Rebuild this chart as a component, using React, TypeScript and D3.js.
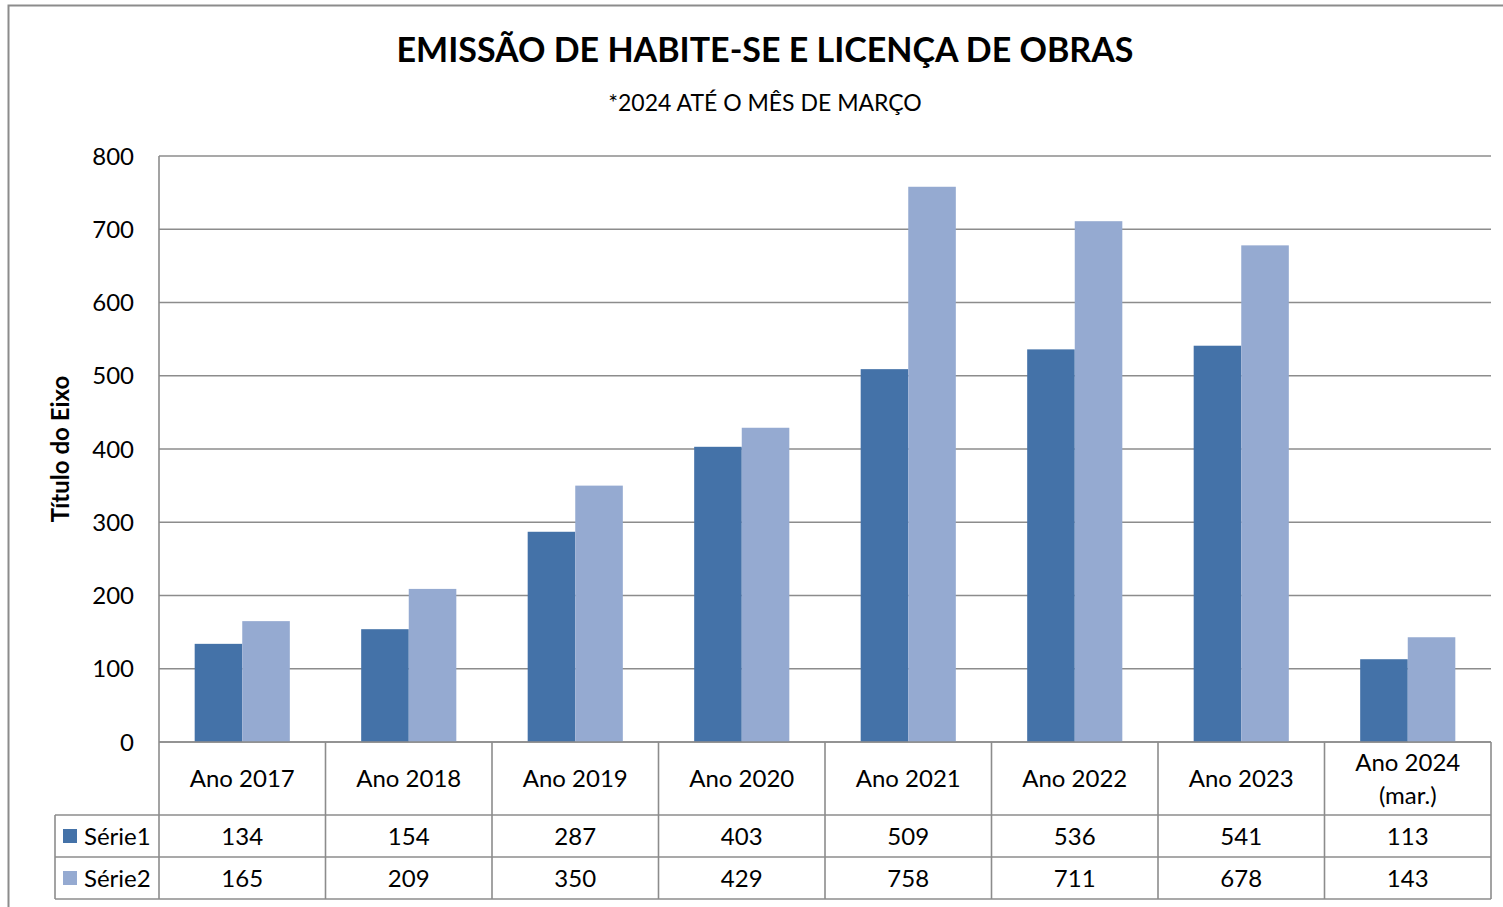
import React from 'react';
import * as d3 from 'd3';

const categories = ['Ano 2017', 'Ano 2018', 'Ano 2019', 'Ano 2020', 'Ano 2021', 'Ano 2022', 'Ano 2023', 'Ano 2024\n(mar.)'];
const seriesNames = ['Série1', 'Série2'];
const serie1 = [134, 154, 287, 403, 509, 536, 541, 113];
const serie2 = [165, 209, 350, 429, 758, 711, 678, 143];
const yTicks = [0, 100, 200, 300, 400, 500, 600, 700, 800];

const W = 1503;
const H = 907;
const FONT = 'Lato, "Open Sans", sans-serif';
const COLORS = ['#4472A8', '#95AAD1'];
const GRID = '#8c8c8c';

const App: React.FC = () => {
  const plot = { left: 159, right: 1491, top: 156, bottom: 742 };
  const table = { legendLeft: 55, header: 815, row1: 857, row2: 899 };

  const x0 = d3.scaleBand<string>()
    .domain(categories)
    .range([plot.left, plot.right])
    .paddingInner(0)
    .paddingOuter(0);

  const x1 = d3.scaleBand<string>()
    .domain(seriesNames)
    .range([0, x0.bandwidth()])
    .paddingInner(0)
    .paddingOuter(0.75);

  const y = d3.scaleLinear().domain([0, 800]).range([plot.bottom, plot.top]);

  const values = [serie1, serie2];
  const rowTops = [table.header, table.row1];
  const rowBottoms = [table.row1, table.row2];

  return (
    <svg width={W} height={H} style={{ position: 'absolute', left: 0, top: 0, display: 'block', background: '#fff' }}>
      {/* outer chart border */}
      <path d={`M8.5,${H + 5} V5.5 H${W + 5}`} fill="none" stroke="#8c8c8c" strokeWidth={2} />

      {/* title */}
      <text x={765} y={62} textAnchor="middle" fontFamily={FONT} fontWeight={700} fontSize={34} fill="#000">
        EMISSÃO DE HABITE-SE E LICENÇA DE OBRAS
      </text>
      <text x={765} y={111} textAnchor="middle" fontFamily={FONT} fontSize={23} fill="#000">
        *2024 ATÉ O MÊS DE MARÇO
      </text>

      {/* gridlines */}
      {yTicks.map((t) => (
        <line key={t} x1={plot.left} x2={plot.right} y1={y(t)} y2={y(t)} stroke={GRID} strokeWidth={1.6} />
      ))}
      <line x1={plot.left} x2={plot.left} y1={plot.top} y2={table.row2} stroke={GRID} strokeWidth={1.6} />

      {/* y ticks */}
      {yTicks.map((t) => (
        <text key={t} x={134} y={y(t)} dy="0.36em" textAnchor="end" fontFamily={FONT} fontSize={24} fill="#000">
          {t}
        </text>
      ))}

      {/* y axis title */}
      <text
        transform={`translate(69,${(plot.top + plot.bottom) / 2}) rotate(-90)`}
        textAnchor="middle"
        fontFamily={FONT}
        fontWeight={700}
        fontSize={24}
        fill="#000"
      >
        Título do Eixo
      </text>

      {/* bars */}
      {categories.map((c, i) => (
        <g key={c} transform={`translate(${x0(c)},0)`}>
          {seriesNames.map((s, j) => (
            <rect
              key={s}
              x={x1(s)}
              y={y(values[j][i])}
              width={x1.bandwidth()}
              height={y(0) - y(values[j][i])}
              fill={COLORS[j]}
            />
          ))}
        </g>
      ))}

      {/* data table lines */}
      <line x1={plot.left} x2={plot.right} y1={plot.bottom} y2={plot.bottom} stroke={GRID} strokeWidth={1.6} />
      {[table.header, table.row1, table.row2].map((ly) => (
        <line key={ly} x1={table.legendLeft} x2={plot.right} y1={ly} y2={ly} stroke={GRID} strokeWidth={1.6} />
      ))}
      <line x1={table.legendLeft} x2={table.legendLeft} y1={table.header} y2={table.row2} stroke={GRID} strokeWidth={1.6} />
      {categories.map((c) => (
        <line
          key={c}
          x1={(x0(c) as number) + x0.bandwidth()}
          x2={(x0(c) as number) + x0.bandwidth()}
          y1={plot.bottom}
          y2={table.row2}
          stroke={GRID}
          strokeWidth={1.6}
        />
      ))}

      {/* header labels */}
      {categories.map((c) => {
        const lines = c.split('\n');
        const cx = (x0(c) as number) + x0.bandwidth() / 2;
        const cy = (plot.bottom + table.header) / 2;
        const lh = 33;
        return (
          <text key={c} textAnchor="middle" fontFamily={FONT} fontSize={24} fill="#000">
            {lines.map((l, k) => (
              <tspan key={k} x={cx} y={cy + (k - (lines.length - 1) / 2) * lh} dy="0.36em">
                {l}
              </tspan>
            ))}
          </text>
        );
      })}

      {/* legend keys and values */}
      {seriesNames.map((s, j) => {
        const cy = (rowTops[j] + rowBottoms[j]) / 2;
        return (
          <g key={s}>
            <rect x={63} y={cy - 7} width={14} height={14} fill={COLORS[j]} />
            <text x={84} y={cy} dy="0.36em" fontFamily={FONT} fontSize={24} fill="#000">
              {s}
            </text>
            {categories.map((c, i) => (
              <text
                key={c}
                x={(x0(c) as number) + x0.bandwidth() / 2}
                y={cy}
                dy="0.36em"
                textAnchor="middle"
                fontFamily={FONT}
                fontSize={24}
                fill="#000"
              >
                {values[j][i]}
              </text>
            ))}
          </g>
        );
      })}
    </svg>
  );
};

export default App;
